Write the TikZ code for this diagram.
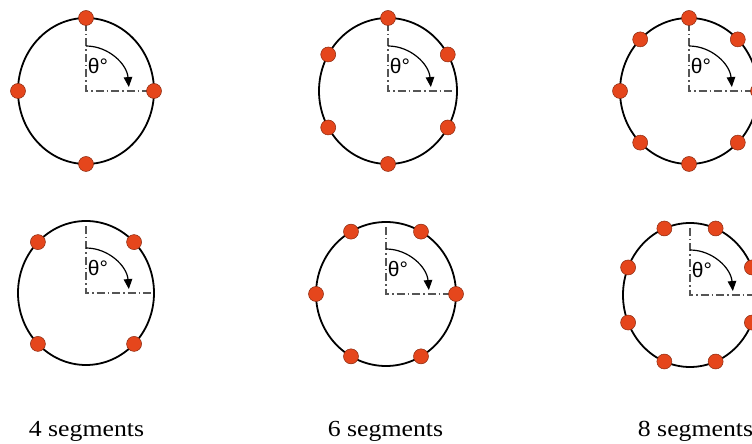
\documentclass[tikz,border=0pt]{standalone}
\usepackage{fontspec}
\setmainfont{Liberation Serif}
\newfontfamily\thetafont{Liberation Sans}
\usetikzlibrary{arrows.meta}
\definecolor{dotred}{HTML}{E5461C}
\definecolor{dotrim}{HTML}{8A2A10}
\definecolor{axisgray}{HTML}{555555}
\tikzset{
  rim/.style={draw=black, line width=1.8pt},
  axisline/.style={draw=axisgray, line width=1.1pt, dash pattern=on 8pt off 3pt on 1.5pt off 3pt},
  sweep/.style={draw=black, line width=1.2pt, -{Triangle[length=10pt,width=8.5pt]}},
  segdot/.style={circle, fill=dotred, draw=dotrim, line width=0.5pt, minimum size=15pt, inner sep=0pt},
  thetalbl/.style={font=\thetafont\fontsize{21}{21}\selectfont, inner sep=0pt},
  caption/.style={font=\fontsize{23}{23}\selectfont, xscale=1.12, inner sep=0pt, anchor=base}
}
% #1 name, #2 cx, #3 cy, #4 rx, #5 ry, #6 n, #7 offset
\newcommand{\segpanel}[7]{%
  \coordinate (#1c) at (#2,#3);
  \coordinate (#1top) at (#2,#3+#5-5);
  \coordinate (#1right) at (#2+#4-3,#3);
  \draw[rim] (#1c) ellipse [x radius=#4, y radius=#5];
  \draw[axisline] (#1top) -- (#1c) -- (#1right);
  \draw[sweep] ([yshift=45pt]#1c) arc [start angle=90, end angle=5, x radius=43, y radius=45];
  \node[thetalbl] (#1theta) at ([xshift=12pt,yshift=25pt]#1c) {θ°};
  \foreach \k in {1,...,#6} {
    \pgfmathsetmacro{\ang}{#7+360*(\k-1)/#6}
    \node[segdot] (#1d\k) at ({#2+#4*sin(\ang)},{#3+#5*cos(\ang)}) {};
  }
}
\begin{document}
\begin{tikzpicture}[x=1pt,y=1pt]
\useasboundingbox (0,0) rectangle (752,444);
\begin{scope}
\clip (0,0) rectangle (752,444);
\segpanel{a}{86}{353}{68}{73}{4}{0}
\segpanel{b}{86}{151}{68}{72}{4}{45}
\segpanel{c}{388}{353}{69}{73}{6}{0}
\segpanel{d}{386}{150}{70}{72}{6}{30}
\segpanel{e}{689}{353}{69}{73}{8}{0}
\segpanel{f}{690}{149}{67}{72}{8}{22.5}
\end{scope}
\node[caption] (cap4) at (86.5,7) {4 segments};
\node[caption] (cap6) at (385.5,7) {6 segments};
\node[caption] (cap8) at (695.5,7) {8 segments};
\end{tikzpicture}
\end{document}
